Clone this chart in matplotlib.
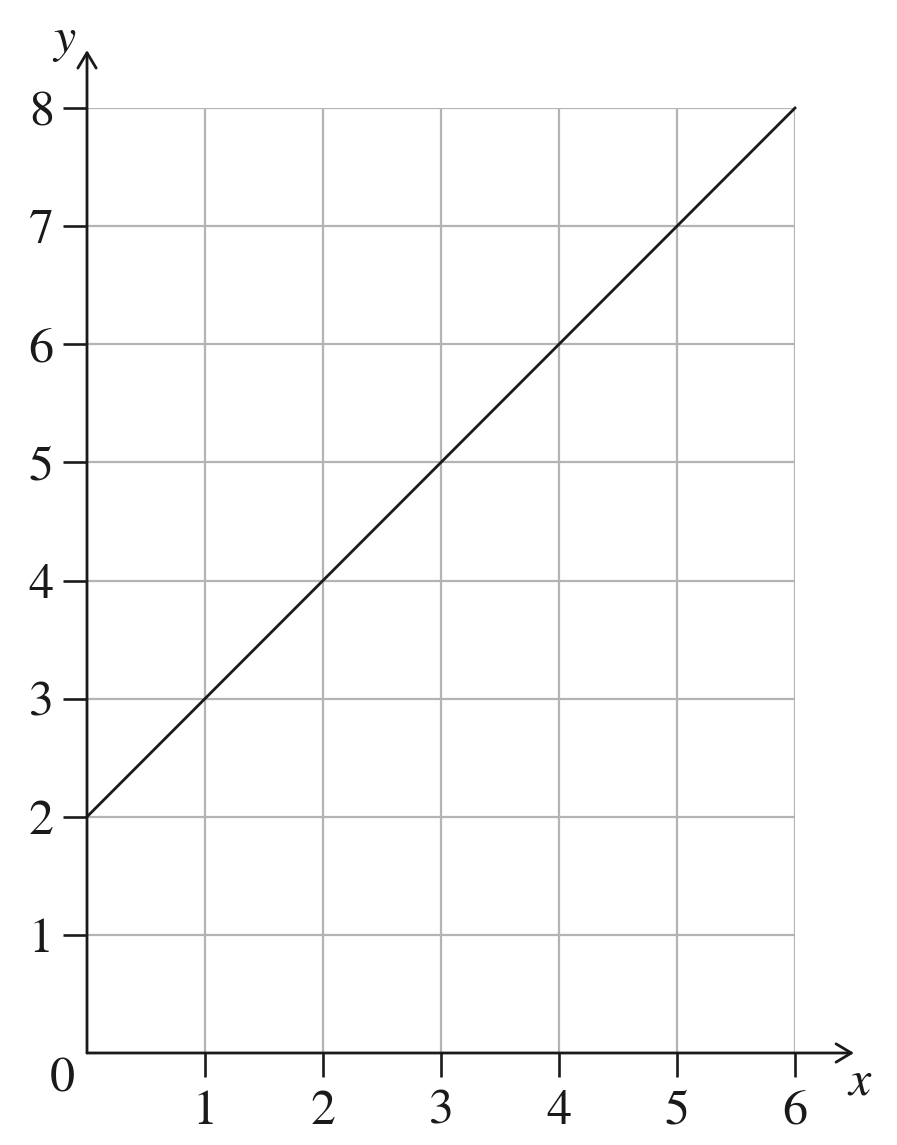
import numpy as np
from matplotlib import pyplot as plt

plt.rcParams.update({'font.family': 'STIXGeneral', 'mathtext.fontset': 'stix', 'font.size': 36})

# data
line_x  = [0, 6]
line_y  = [2, 8]
x_ticks = [1, 2, 3, 4, 5, 6]
y_ticks = [1, 2, 3, 4, 5, 6, 7, 8]

W, H = 897, 1145
fig = plt.figure(figsize=(W/100, H/100), dpi=100)
ax = fig.add_axes([87/W, (H-1053)/H, (795-87)/W, (1053-108)/H])
ax.set_xlim(0, 6)
ax.set_ylim(0, 8)

ax.grid(True, color='#b4b4b4', linewidth=1.6)
ax.set_axisbelow(True)
for s in ax.spines.values():
	s.set_visible(False)

ax.set_xticks(x_ticks)
ax.set_yticks(y_ticks)
ax.tick_params(axis='both', direction='out', length=17, width=1.9, color='#1a1a1a',
               labelcolor='#1a1a1a', pad=7)
ax.tick_params(axis='x', pad=9)

ax.plot(line_x, line_y, color='#1a1a1a', linewidth=2.0, clip_on=False, zorder=4)

# axes with open arrow heads
arr = dict(arrowstyle='->,head_length=0.55,head_width=0.33', color='#1a1a1a',
           lw=2.0, mutation_scale=20, shrinkA=0, shrinkB=0)
ax.annotate('', xy=(6.5, 0), xytext=(0, 0), arrowprops=arr, annotation_clip=False, zorder=5)
ax.annotate('', xy=(0, 8.49), xytext=(0, 0), arrowprops=arr, annotation_clip=False, zorder=5)

ax.text(-0.21, -0.23, '0', ha='center', va='center', color='#1a1a1a')
ax.text(6.55, -0.25, 'x', ha='center', va='center', style='italic', color='#1a1a1a')
ax.text(-0.19, 8.58, 'y', ha='center', va='center', style='italic', color='#1a1a1a')

plt.savefig('out.png', dpi=100)
plt.close()
